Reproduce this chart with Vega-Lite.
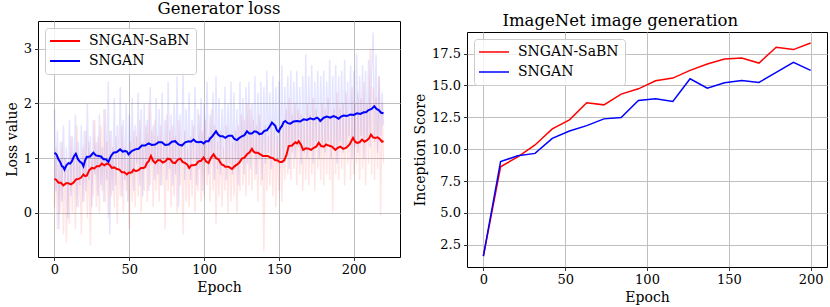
{
  "$schema": "https://vega.github.io/schema/vega-lite/v6.json",
  "padding": {"left": 4, "top": 0, "right": 0, "bottom": 0},
  "background": "white",
  "datasets": {
    "noise": [
      {"e":0,"r":0.1,"b":1.9},{"e":1,"r":1.2,"b":0.4},{"e":2,"r":-0.3,"b":1.5},{"e":3,"r":0.9,"b":-0.3},{"e":4,"r":0.0,"b":1.3},{"e":5,"r":1.3,"b":0.2},{"e":6,"r":-0.4,"b":1.6},{"e":7,"r":1.0,"b":0.5},{"e":8,"r":-0.55,"b":1.2},{"e":9,"r":0.8,"b":-0.1},
      {"e":10,"r":-0.2,"b":1.7},{"e":11,"r":1.4,"b":0.3},{"e":12,"r":0.0,"b":1.4},{"e":13,"r":1.1,"b":0.6},{"e":14,"r":-0.3,"b":1.8},{"e":15,"r":1.6,"b":0.1},{"e":16,"r":0.1,"b":1.3},{"e":17,"r":0.9,"b":0.5},{"e":18,"r":-0.4,"b":1.6},{"e":19,"r":1.2,"b":0.2},
      {"e":20,"r":0.2,"b":1.5},{"e":21,"r":1.5,"b":0.4},{"e":22,"r":-0.1,"b":2.0},{"e":23,"r":1.3,"b":0.6},{"e":24,"r":-0.6,"b":1.4},{"e":25,"r":1.1,"b":0.1},{"e":26,"r":0.3,"b":1.7},{"e":27,"r":1.7,"b":0.7},{"e":28,"r":0.1,"b":1.3},{"e":29,"r":1.4,"b":0.3},
      {"e":30,"r":0.0,"b":1.8},{"e":31,"r":1.6,"b":0.5},{"e":32,"r":0.4,"b":1.2},{"e":33,"r":1.9,"b":0.2},{"e":34,"r":0.2,"b":1.9},{"e":35,"r":1.3,"b":0.6},{"e":36,"r":-0.1,"b":2.4},{"e":37,"r":1.5,"b":-0.4},{"e":38,"r":0.3,"b":1.5},{"e":39,"r":1.2,"b":0.4},
      {"e":40,"r":0.1,"b":2.1},{"e":41,"r":1.4,"b":0.5},{"e":42,"r":-0.2,"b":1.6},{"e":43,"r":1.1,"b":0.8},{"e":44,"r":0.3,"b":2.3},{"e":45,"r":1.6,"b":0.3},{"e":46,"r":0.0,"b":1.7},{"e":47,"r":1.2,"b":0.6},{"e":48,"r":0.4,"b":2.0},{"e":49,"r":1.0,"b":0.2},
      {"e":50,"r":-0.3,"b":1.8},{"e":51,"r":1.3,"b":0.7},{"e":52,"r":0.2,"b":2.1},{"e":53,"r":1.5,"b":0.4},{"e":54,"r":0.1,"b":1.6},{"e":55,"r":1.4,"b":0.9},{"e":56,"r":0.3,"b":2.2},{"e":57,"r":1.7,"b":0.5},{"e":58,"r":0.0,"b":1.9},{"e":59,"r":1.3,"b":0.3},
      {"e":60,"r":0.4,"b":2.0},{"e":61,"r":1.6,"b":0.8},{"e":62,"r":0.2,"b":1.7},{"e":63,"r":2.0,"b":0.4},{"e":64,"r":0.5,"b":2.3},{"e":65,"r":1.5,"b":0.9},{"e":66,"r":0.1,"b":1.6},{"e":67,"r":1.7,"b":0.6},{"e":68,"r":0.4,"b":2.1},{"e":69,"r":1.4,"b":0.7},
      {"e":70,"r":0.2,"b":1.9},{"e":71,"r":1.6,"b":0.5},{"e":72,"r":0.5,"b":2.2},{"e":73,"r":1.3,"b":0.9},{"e":74,"r":-0.3,"b":1.7},{"e":75,"r":1.8,"b":0.6},{"e":76,"r":0.4,"b":2.4},{"e":77,"r":1.5,"b":0.8},{"e":78,"r":0.1,"b":1.8},{"e":79,"r":1.6,"b":0.5},
      {"e":80,"r":0.3,"b":2.0},{"e":81,"r":1.4,"b":0.7},{"e":82,"r":0.0,"b":2.5},{"e":83,"r":1.7,"b":0.1},{"e":84,"r":0.5,"b":1.8},{"e":85,"r":1.3,"b":0.9},{"e":86,"r":-0.4,"b":2.6},{"e":87,"r":1.5,"b":0.6},{"e":88,"r":0.2,"b":1.9},{"e":89,"r":1.2,"b":0.8},
      {"e":90,"r":0.1,"b":2.2},{"e":91,"r":1.4,"b":0.6},{"e":92,"r":0.3,"b":1.7},{"e":93,"r":1.6,"b":1.0},{"e":94,"r":0.0,"b":2.3},{"e":95,"r":1.3,"b":0.5},{"e":96,"r":0.4,"b":1.9},{"e":97,"r":1.8,"b":0.8},{"e":98,"r":0.2,"b":2.1},{"e":99,"r":1.5,"b":0.4},
      {"e":100,"r":0.3,"b":2.0},{"e":101,"r":1.7,"b":0.9},{"e":102,"r":0.5,"b":2.4},{"e":103,"r":1.4,"b":0.7},{"e":104,"r":0.2,"b":1.8},{"e":105,"r":1.9,"b":1.0},{"e":106,"r":0.4,"b":2.2},{"e":107,"r":1.6,"b":0.6},{"e":108,"r":-0.2,"b":2.5},{"e":109,"r":1.3,"b":0.8},
      {"e":110,"r":0.3,"b":2.1},{"e":111,"r":1.5,"b":0.7},{"e":112,"r":0.1,"b":1.9},{"e":113,"r":1.2,"b":1.0},{"e":114,"r":0.4,"b":2.3},{"e":115,"r":1.6,"b":0.6},{"e":116,"r":0.0,"b":2.0},{"e":117,"r":1.4,"b":0.9},{"e":118,"r":0.2,"b":2.4},{"e":119,"r":1.3,"b":0.7},
      {"e":120,"r":0.3,"b":2.2},{"e":121,"r":1.5,"b":0.8},{"e":122,"r":0.0,"b":1.9},{"e":123,"r":1.6,"b":0.5},{"e":124,"r":0.4,"b":2.4},{"e":125,"r":1.8,"b":1.0},{"e":126,"r":0.5,"b":2.1},{"e":127,"r":1.7,"b":0.7},{"e":128,"r":0.3,"b":2.3},{"e":129,"r":2.0,"b":0.9},
      {"e":130,"r":0.5,"b":2.4},{"e":131,"r":1.9,"b":0.8},{"e":132,"r":0.4,"b":2.0},{"e":133,"r":1.7,"b":1.1},{"e":134,"r":0.6,"b":2.5},{"e":135,"r":1.6,"b":0.7},{"e":136,"r":0.2,"b":2.2},{"e":137,"r":1.8,"b":1.0},{"e":138,"r":0.5,"b":2.4},{"e":139,"r":1.5,"b":0.6},
      {"e":140,"r":-0.7,"b":2.3},{"e":141,"r":1.6,"b":0.9},{"e":142,"r":0.4,"b":2.6},{"e":143,"r":1.4,"b":1.1},{"e":144,"r":0.5,"b":2.2},{"e":145,"r":1.7,"b":0.8},{"e":146,"r":0.3,"b":2.5},{"e":147,"r":1.5,"b":1.0},{"e":148,"r":0.1,"b":2.3},{"e":149,"r":1.4,"b":0.9},
      {"e":150,"r":0.4,"b":2.4},{"e":151,"r":1.5,"b":1.0},{"e":152,"r":0.2,"b":2.7},{"e":153,"r":1.6,"b":0.9},{"e":154,"r":0.6,"b":2.3},{"e":155,"r":1.9,"b":1.2},{"e":156,"r":0.7,"b":2.5},{"e":157,"r":2.1,"b":0.8},{"e":158,"r":0.6,"b":2.6},{"e":159,"r":1.8,"b":1.1},
      {"e":160,"r":0.8,"b":2.4},{"e":161,"r":2.0,"b":1.0},{"e":162,"r":0.5,"b":2.6},{"e":163,"r":1.9,"b":1.2},{"e":164,"r":0.7,"b":2.3},{"e":165,"r":1.8,"b":0.9},{"e":166,"r":0.4,"b":2.5},{"e":167,"r":1.7,"b":1.1},{"e":168,"r":0.6,"b":2.9},{"e":169,"r":2.0,"b":1.0},
      {"e":170,"r":0.5,"b":2.5},{"e":171,"r":1.8,"b":1.2},{"e":172,"r":0.7,"b":2.7},{"e":173,"r":2.1,"b":0.9},{"e":174,"r":0.4,"b":2.4},{"e":175,"r":1.9,"b":1.3},{"e":176,"r":0.8,"b":2.6},{"e":177,"r":1.7,"b":1.0},{"e":178,"r":0.6,"b":2.5},{"e":179,"r":2.0,"b":1.2},
      {"e":180,"r":0.5,"b":2.6},{"e":181,"r":1.9,"b":1.1},{"e":182,"r":0.7,"b":2.4},{"e":183,"r":2.1,"b":1.3},{"e":184,"r":0.6,"b":2.8},{"e":185,"r":1.8,"b":1.0},{"e":186,"r":0.0,"b":2.5},{"e":187,"r":1.9,"b":1.2},{"e":188,"r":0.7,"b":2.7},{"e":189,"r":2.2,"b":0.9},
      {"e":190,"r":0.6,"b":2.5},{"e":191,"r":1.9,"b":1.3},{"e":192,"r":0.8,"b":2.6},{"e":193,"r":2.0,"b":1.1},{"e":194,"r":0.5,"b":2.8},{"e":195,"r":2.2,"b":1.2},{"e":196,"r":0.9,"b":2.4},{"e":197,"r":1.8,"b":1.4},{"e":198,"r":0.6,"b":2.7},{"e":199,"r":2.3,"b":1.0},
      {"e":200,"r":0.7,"b":2.6},{"e":201,"r":2.0,"b":1.2},{"e":202,"r":0.9,"b":2.9},{"e":203,"r":2.2,"b":1.1},{"e":204,"r":0.6,"b":2.5},{"e":205,"r":2.1,"b":1.4},{"e":206,"r":0.8,"b":2.7},{"e":207,"r":2.4,"b":1.0},{"e":208,"r":0.5,"b":2.6},{"e":209,"r":2.0,"b":1.3},
      {"e":210,"r":0.9,"b":2.8},{"e":211,"r":3.0,"b":1.2},{"e":212,"r":0.7,"b":2.6},{"e":213,"r":2.3,"b":3.3},{"e":214,"r":0.6,"b":1.3},{"e":215,"r":2.1,"b":2.9},{"e":216,"r":0.8,"b":1.1},{"e":217,"r":2.5,"b":2.5},{"e":218,"r":-0.05,"b":1.4},{"e":219,"r":2.0,"b":2.2},{"e":220,"r":0.9,"b":1.6}
    ],
    "smooth": [
      {"s":"SNGAN-SaBN","e":0,"v":0.62},{"s":"SNGAN-SaBN","e":1.3,"v":0.6},{"s":"SNGAN-SaBN","e":2.7,"v":0.55},{"s":"SNGAN-SaBN","e":4.3,"v":0.55},{"s":"SNGAN-SaBN","e":6,"v":0.5},{"s":"SNGAN-SaBN","e":7.7,"v":0.54},{"s":"SNGAN-SaBN","e":9.4,"v":0.54},{"s":"SNGAN-SaBN","e":11,"v":0.52},{"s":"SNGAN-SaBN","e":12.7,"v":0.55},{"s":"SNGAN-SaBN","e":14.4,"v":0.61},{"s":"SNGAN-SaBN","e":16.1,"v":0.62},{"s":"SNGAN-SaBN","e":17.7,"v":0.64},{"s":"SNGAN-SaBN","e":19.4,"v":0.7},{"s":"SNGAN-SaBN","e":20.5,"v":0.67},{"s":"SNGAN-SaBN","e":21.6,"v":0.68},{"s":"SNGAN-SaBN","e":23.3,"v":0.78},{"s":"SNGAN-SaBN","e":25,"v":0.82},{"s":"SNGAN-SaBN","e":26.6,"v":0.81},{"s":"SNGAN-SaBN","e":28.3,"v":0.85},{"s":"SNGAN-SaBN","e":30,"v":0.85},{"s":"SNGAN-SaBN","e":31.7,"v":0.9},{"s":"SNGAN-SaBN","e":33.3,"v":0.87},{"s":"SNGAN-SaBN","e":35,"v":0.9},{"s":"SNGAN-SaBN","e":36.7,"v":0.88},{"s":"SNGAN-SaBN","e":38.4,"v":0.82},{"s":"SNGAN-SaBN","e":40,"v":0.83},{"s":"SNGAN-SaBN","e":41.7,"v":0.8},{"s":"SNGAN-SaBN","e":43.4,"v":0.79},{"s":"SNGAN-SaBN","e":45.1,"v":0.74},{"s":"SNGAN-SaBN","e":46.7,"v":0.74},{"s":"SNGAN-SaBN","e":48.4,"v":0.7},{"s":"SNGAN-SaBN","e":49.5,"v":0.73},{"s":"SNGAN-SaBN","e":50.6,"v":0.73},{"s":"SNGAN-SaBN","e":51.7,"v":0.74},{"s":"SNGAN-SaBN","e":52.9,"v":0.79},{"s":"SNGAN-SaBN","e":54.5,"v":0.76},{"s":"SNGAN-SaBN","e":56.2,"v":0.78},{"s":"SNGAN-SaBN","e":57.9,"v":0.82},{"s":"SNGAN-SaBN","e":59.6,"v":0.82},{"s":"SNGAN-SaBN","e":60.7,"v":0.84},{"s":"SNGAN-SaBN","e":61.8,"v":0.91},{"s":"SNGAN-SaBN","e":63.1,"v":0.95},{"s":"SNGAN-SaBN","e":64.5,"v":1.04},{"s":"SNGAN-SaBN","e":66,"v":0.95},{"s":"SNGAN-SaBN","e":67.4,"v":0.91},{"s":"SNGAN-SaBN","e":69,"v":0.96},{"s":"SNGAN-SaBN","e":70.7,"v":0.96},{"s":"SNGAN-SaBN","e":72.4,"v":0.92},{"s":"SNGAN-SaBN","e":74.1,"v":0.94},{"s":"SNGAN-SaBN","e":75.7,"v":0.99},{"s":"SNGAN-SaBN","e":77.4,"v":0.98},{"s":"SNGAN-SaBN","e":79,"v":0.92},{"s":"SNGAN-SaBN","e":80.7,"v":0.91},{"s":"SNGAN-SaBN","e":82.4,"v":0.97},{"s":"SNGAN-SaBN","e":84.1,"v":0.99},{"s":"SNGAN-SaBN","e":85.7,"v":0.93},{"s":"SNGAN-SaBN","e":87.4,"v":0.91},{"s":"SNGAN-SaBN","e":88.8,"v":0.88},{"s":"SNGAN-SaBN","e":90.1,"v":0.82},{"s":"SNGAN-SaBN","e":91.5,"v":0.87},{"s":"SNGAN-SaBN","e":93,"v":0.87},{"s":"SNGAN-SaBN","e":94.6,"v":0.88},{"s":"SNGAN-SaBN","e":96.3,"v":0.94},{"s":"SNGAN-SaBN","e":98,"v":0.95},{"s":"SNGAN-SaBN","e":99.7,"v":1.01},{"s":"SNGAN-SaBN","e":101.3,"v":0.94},{"s":"SNGAN-SaBN","e":103,"v":0.91},{"s":"SNGAN-SaBN","e":104.7,"v":1.01},{"s":"SNGAN-SaBN","e":106.4,"v":1.07},{"s":"SNGAN-SaBN","e":108,"v":1.0},{"s":"SNGAN-SaBN","e":109.7,"v":0.98},{"s":"SNGAN-SaBN","e":110.8,"v":0.92},{"s":"SNGAN-SaBN","e":112,"v":0.88},{"s":"SNGAN-SaBN","e":113.1,"v":0.87},{"s":"SNGAN-SaBN","e":114.2,"v":0.84},{"s":"SNGAN-SaBN","e":116.5,"v":0.84},{"s":"SNGAN-SaBN","e":118.7,"v":0.8},{"s":"SNGAN-SaBN","e":120.3,"v":0.85},{"s":"SNGAN-SaBN","e":122,"v":0.88},{"s":"SNGAN-SaBN","e":123.6,"v":0.92},{"s":"SNGAN-SaBN","e":125.3,"v":0.99},{"s":"SNGAN-SaBN","e":127,"v":1.01},{"s":"SNGAN-SaBN","e":128.7,"v":1.07},{"s":"SNGAN-SaBN","e":130.3,"v":1.1},{"s":"SNGAN-SaBN","e":132,"v":1.17},{"s":"SNGAN-SaBN","e":133.1,"v":1.12},{"s":"SNGAN-SaBN","e":134.2,"v":1.1},{"s":"SNGAN-SaBN","e":135.9,"v":1.1},{"s":"SNGAN-SaBN","e":137.6,"v":1.07},{"s":"SNGAN-SaBN","e":139.2,"v":1.04},{"s":"SNGAN-SaBN","e":140.9,"v":1.04},{"s":"SNGAN-SaBN","e":142.6,"v":1.04},{"s":"SNGAN-SaBN","e":144.3,"v":1.01},{"s":"SNGAN-SaBN","e":146,"v":1.0},{"s":"SNGAN-SaBN","e":147.6,"v":0.96},{"s":"SNGAN-SaBN","e":149,"v":0.96},{"s":"SNGAN-SaBN","e":150.5,"v":0.93},{"s":"SNGAN-SaBN","e":152,"v":0.93},{"s":"SNGAN-SaBN","e":153.6,"v":0.96},{"s":"SNGAN-SaBN","e":155,"v":1.05},{"s":"SNGAN-SaBN","e":156.6,"v":1.22},{"s":"SNGAN-SaBN","e":158.8,"v":1.23},{"s":"SNGAN-SaBN","e":161,"v":1.29},{"s":"SNGAN-SaBN","e":162.1,"v":1.27},{"s":"SNGAN-SaBN","e":163.3,"v":1.31},{"s":"SNGAN-SaBN","e":164.7,"v":1.25},{"s":"SNGAN-SaBN","e":166.2,"v":1.15},{"s":"SNGAN-SaBN","e":168.1,"v":1.18},{"s":"SNGAN-SaBN","e":170,"v":1.17},{"s":"SNGAN-SaBN","e":171.6,"v":1.15},{"s":"SNGAN-SaBN","e":173.3,"v":1.19},{"s":"SNGAN-SaBN","e":175,"v":1.21},{"s":"SNGAN-SaBN","e":176.7,"v":1.28},{"s":"SNGAN-SaBN","e":178.3,"v":1.22},{"s":"SNGAN-SaBN","e":180,"v":1.21},{"s":"SNGAN-SaBN","e":181.6,"v":1.25},{"s":"SNGAN-SaBN","e":183.3,"v":1.23},{"s":"SNGAN-SaBN","e":185.5,"v":1.21},{"s":"SNGAN-SaBN","e":187.8,"v":1.15},{"s":"SNGAN-SaBN","e":189.4,"v":1.19},{"s":"SNGAN-SaBN","e":191.1,"v":1.21},{"s":"SNGAN-SaBN","e":193.1,"v":1.17},{"s":"SNGAN-SaBN","e":195.1,"v":1.19},{"s":"SNGAN-SaBN","e":197.3,"v":1.25},{"s":"SNGAN-SaBN","e":199.6,"v":1.37},{"s":"SNGAN-SaBN","e":201,"v":1.3},{"s":"SNGAN-SaBN","e":202.3,"v":1.28},{"s":"SNGAN-SaBN","e":204,"v":1.29},{"s":"SNGAN-SaBN","e":205.6,"v":1.34},{"s":"SNGAN-SaBN","e":207.3,"v":1.3},{"s":"SNGAN-SaBN","e":209,"v":1.33},{"s":"SNGAN-SaBN","e":210.3,"v":1.36},{"s":"SNGAN-SaBN","e":211.6,"v":1.43},{"s":"SNGAN-SaBN","e":213,"v":1.38},{"s":"SNGAN-SaBN","e":214.5,"v":1.37},{"s":"SNGAN-SaBN","e":216,"v":1.38},{"s":"SNGAN-SaBN","e":217.5,"v":1.35},{"s":"SNGAN-SaBN","e":219,"v":1.3},{"s":"SNGAN-SaBN","e":220,"v":1.31},
      {"s":"SNGAN","e":0,"v":1.1},{"s":"SNGAN","e":1.3,"v":1.07},{"s":"SNGAN","e":2.7,"v":0.98},{"s":"SNGAN","e":3.8,"v":0.93},{"s":"SNGAN","e":5,"v":0.85},{"s":"SNGAN","e":5.8,"v":0.84},{"s":"SNGAN","e":6.7,"v":0.79},{"s":"SNGAN","e":8,"v":0.87},{"s":"SNGAN","e":9.4,"v":0.91},{"s":"SNGAN","e":10.5,"v":0.9},{"s":"SNGAN","e":11.6,"v":0.94},{"s":"SNGAN","e":13,"v":1.03},{"s":"SNGAN","e":14.3,"v":1.08},{"s":"SNGAN","e":15.7,"v":0.98},{"s":"SNGAN","e":17.2,"v":0.93},{"s":"SNGAN","e":18.3,"v":0.91},{"s":"SNGAN","e":19.4,"v":0.85},{"s":"SNGAN","e":20.5,"v":0.96},{"s":"SNGAN","e":21.6,"v":1.02},{"s":"SNGAN","e":23.8,"v":1.03},{"s":"SNGAN","e":26,"v":1.1},{"s":"SNGAN","e":27.7,"v":1.05},{"s":"SNGAN","e":29.5,"v":1.04},{"s":"SNGAN","e":31.1,"v":1.03},{"s":"SNGAN","e":32.8,"v":0.98},{"s":"SNGAN","e":34.4,"v":0.98},{"s":"SNGAN","e":36.1,"v":0.93},{"s":"SNGAN","e":37.8,"v":1.04},{"s":"SNGAN","e":39.5,"v":1.1},{"s":"SNGAN","e":41.7,"v":1.11},{"s":"SNGAN","e":43.9,"v":1.16},{"s":"SNGAN","e":45.6,"v":1.12},{"s":"SNGAN","e":47.3,"v":1.13},{"s":"SNGAN","e":48.4,"v":1.12},{"s":"SNGAN","e":49.5,"v":1.07},{"s":"SNGAN","e":51.7,"v":1.13},{"s":"SNGAN","e":54,"v":1.16},{"s":"SNGAN","e":56.2,"v":1.17},{"s":"SNGAN","e":58.4,"v":1.23},{"s":"SNGAN","e":60.6,"v":1.23},{"s":"SNGAN","e":62.9,"v":1.27},{"s":"SNGAN","e":65.1,"v":1.24},{"s":"SNGAN","e":67.4,"v":1.25},{"s":"SNGAN","e":69.6,"v":1.29},{"s":"SNGAN","e":71.8,"v":1.29},{"s":"SNGAN","e":74,"v":1.24},{"s":"SNGAN","e":76.3,"v":1.25},{"s":"SNGAN","e":78.5,"v":1.3},{"s":"SNGAN","e":80.7,"v":1.31},{"s":"SNGAN","e":82.9,"v":1.25},{"s":"SNGAN","e":85.2,"v":1.23},{"s":"SNGAN","e":87.4,"v":1.29},{"s":"SNGAN","e":89.7,"v":1.31},{"s":"SNGAN","e":91.3,"v":1.3},{"s":"SNGAN","e":93,"v":1.34},{"s":"SNGAN","e":94.6,"v":1.3},{"s":"SNGAN","e":96.3,"v":1.29},{"s":"SNGAN","e":98,"v":1.3},{"s":"SNGAN","e":99.7,"v":1.27},{"s":"SNGAN","e":101.3,"v":1.31},{"s":"SNGAN","e":103,"v":1.31},{"s":"SNGAN","e":104.1,"v":1.36},{"s":"SNGAN","e":105.3,"v":1.39},{"s":"SNGAN","e":106.6,"v":1.44},{"s":"SNGAN","e":108,"v":1.49},{"s":"SNGAN","e":109.4,"v":1.43},{"s":"SNGAN","e":110.8,"v":1.4},{"s":"SNGAN","e":112.5,"v":1.4},{"s":"SNGAN","e":114.2,"v":1.37},{"s":"SNGAN","e":116.4,"v":1.41},{"s":"SNGAN","e":118.7,"v":1.41},{"s":"SNGAN","e":120.3,"v":1.35},{"s":"SNGAN","e":122,"v":1.33},{"s":"SNGAN","e":123.6,"v":1.37},{"s":"SNGAN","e":125.3,"v":1.4},{"s":"SNGAN","e":127,"v":1.42},{"s":"SNGAN","e":128.7,"v":1.49},{"s":"SNGAN","e":130.3,"v":1.45},{"s":"SNGAN","e":132,"v":1.45},{"s":"SNGAN","e":133.7,"v":1.49},{"s":"SNGAN","e":135.4,"v":1.48},{"s":"SNGAN","e":137,"v":1.44},{"s":"SNGAN","e":138.7,"v":1.45},{"s":"SNGAN","e":140.3,"v":1.5},{"s":"SNGAN","e":142,"v":1.51},{"s":"SNGAN","e":143.7,"v":1.57},{"s":"SNGAN","e":145.4,"v":1.65},{"s":"SNGAN","e":146.5,"v":1.62},{"s":"SNGAN","e":147.6,"v":1.59},{"s":"SNGAN","e":148.7,"v":1.51},{"s":"SNGAN","e":149.9,"v":1.48},{"s":"SNGAN","e":151,"v":1.55},{"s":"SNGAN","e":152.1,"v":1.59},{"s":"SNGAN","e":153.2,"v":1.66},{"s":"SNGAN","e":154.3,"v":1.68},{"s":"SNGAN","e":156,"v":1.64},{"s":"SNGAN","e":157.7,"v":1.63},{"s":"SNGAN","e":159.9,"v":1.67},{"s":"SNGAN","e":162.1,"v":1.68},{"s":"SNGAN","e":164.3,"v":1.67},{"s":"SNGAN","e":166.6,"v":1.71},{"s":"SNGAN","e":168.8,"v":1.7},{"s":"SNGAN","e":171,"v":1.73},{"s":"SNGAN","e":173.2,"v":1.71},{"s":"SNGAN","e":175.5,"v":1.74},{"s":"SNGAN","e":176.6,"v":1.72},{"s":"SNGAN","e":177.7,"v":1.68},{"s":"SNGAN","e":180,"v":1.74},{"s":"SNGAN","e":182.2,"v":1.76},{"s":"SNGAN","e":184.4,"v":1.74},{"s":"SNGAN","e":186.6,"v":1.77},{"s":"SNGAN","e":188.3,"v":1.75},{"s":"SNGAN","e":190,"v":1.72},{"s":"SNGAN","e":191.6,"v":1.76},{"s":"SNGAN","e":193.3,"v":1.78},{"s":"SNGAN","e":195.5,"v":1.77},{"s":"SNGAN","e":197.8,"v":1.8},{"s":"SNGAN","e":200,"v":1.79},{"s":"SNGAN","e":202.3,"v":1.82},{"s":"SNGAN","e":204.5,"v":1.81},{"s":"SNGAN","e":206.7,"v":1.84},{"s":"SNGAN","e":208.3,"v":1.84},{"s":"SNGAN","e":210,"v":1.88},{"s":"SNGAN","e":212,"v":1.9},{"s":"SNGAN","e":213.8,"v":1.95},{"s":"SNGAN","e":215.3,"v":1.9},{"s":"SNGAN","e":216.8,"v":1.88},{"s":"SNGAN","e":218.4,"v":1.83},{"s":"SNGAN","e":220,"v":1.82}
    ],
    "inception": [
      {"s":"SNGAN-SaBN","e":0,"v":1.6},{"s":"SNGAN-SaBN","e":10.53,"v":8.62},{"s":"SNGAN-SaBN","e":21.05,"v":9.4},{"s":"SNGAN-SaBN","e":31.58,"v":10.33},{"s":"SNGAN-SaBN","e":42.11,"v":11.59},{"s":"SNGAN-SaBN","e":52.63,"v":12.3},{"s":"SNGAN-SaBN","e":63.16,"v":13.65},{"s":"SNGAN-SaBN","e":73.68,"v":13.48},{"s":"SNGAN-SaBN","e":84.21,"v":14.32},{"s":"SNGAN-SaBN","e":94.74,"v":14.74},{"s":"SNGAN-SaBN","e":105.26,"v":15.37},{"s":"SNGAN-SaBN","e":115.79,"v":15.58},{"s":"SNGAN-SaBN","e":126.32,"v":16.19},{"s":"SNGAN-SaBN","e":136.84,"v":16.69},{"s":"SNGAN-SaBN","e":147.37,"v":17.08},{"s":"SNGAN-SaBN","e":157.89,"v":17.16},{"s":"SNGAN-SaBN","e":168.42,"v":16.76},{"s":"SNGAN-SaBN","e":178.95,"v":18.0},{"s":"SNGAN-SaBN","e":189.47,"v":17.82},{"s":"SNGAN-SaBN","e":200,"v":18.34},
      {"s":"SNGAN","e":0,"v":1.6},{"s":"SNGAN","e":10.53,"v":9.02},{"s":"SNGAN","e":21.05,"v":9.49},{"s":"SNGAN","e":31.58,"v":9.67},{"s":"SNGAN","e":42.11,"v":10.85},{"s":"SNGAN","e":52.63,"v":11.43},{"s":"SNGAN","e":63.16,"v":11.85},{"s":"SNGAN","e":73.68,"v":12.38},{"s":"SNGAN","e":84.21,"v":12.48},{"s":"SNGAN","e":94.74,"v":13.82},{"s":"SNGAN","e":105.26,"v":13.95},{"s":"SNGAN","e":115.79,"v":13.74},{"s":"SNGAN","e":126.32,"v":15.53},{"s":"SNGAN","e":136.84,"v":14.79},{"s":"SNGAN","e":147.37,"v":15.21},{"s":"SNGAN","e":157.89,"v":15.4},{"s":"SNGAN","e":168.42,"v":15.24},{"s":"SNGAN","e":178.95,"v":16.03},{"s":"SNGAN","e":189.47,"v":16.82},{"s":"SNGAN","e":200,"v":16.19}
    ]
  },
  "spacing": 12,
  "resolve": {"scale": {"color": "independent", "x": "independent", "y": "independent"}, "legend": {"color": "independent"}},
  "hconcat": [
    {
      "width": 362,
      "height": 236,
      "title": {"text": "Generator loss", "offset": 4},
      "layer": [
        {
          "data": {"name": "noise"},
          "mark": {"type": "line", "color": "#ff0000", "opacity": 0.1, "strokeWidth": 1.5},
          "encoding": {
            "x": {"field": "e", "type": "quantitative", "title": "Epoch", "scale": {"domain": [-11, 231], "nice": false, "zero": false}, "axis": {"values": [0, 50, 100, 150, 200]}},
            "y": {"field": "r", "type": "quantitative", "title": "Loss value", "scale": {"domain": [-0.81, 3.51], "nice": false, "zero": false}, "axis": {"values": [0, 1, 2, 3]}}
          }
        },
        {
          "data": {"name": "noise"},
          "mark": {"type": "line", "color": "#0000ff", "opacity": 0.1, "strokeWidth": 1.5},
          "encoding": {
            "x": {"field": "e", "type": "quantitative", "title": "Epoch", "scale": {"domain": [-11, 231], "nice": false, "zero": false}},
            "y": {"field": "b", "type": "quantitative", "title": "Loss value", "scale": {"domain": [-0.81, 3.51], "nice": false, "zero": false}}
          }
        },
        {
          "data": {"name": "smooth"},
          "mark": {"type": "line", "strokeWidth": 2},
          "encoding": {
            "x": {"field": "e", "type": "quantitative", "title": "Epoch", "scale": {"domain": [-11, 231], "nice": false, "zero": false}},
            "y": {"field": "v", "type": "quantitative", "title": "Loss value", "scale": {"domain": [-0.81, 3.51], "nice": false, "zero": false}},
            "color": {"field": "s", "type": "nominal", "sort": ["SNGAN-SaBN", "SNGAN"], "scale": {"domain": ["SNGAN-SaBN", "SNGAN"], "range": ["#ff0000", "#0000ff"]}, "legend": {"title": null, "orient": "top-left", "offset": 7, "symbolStrokeWidth": 2}}
          }
        }
      ]
    },
    {
      "title": {"text": "ImageNet image generation", "offset": -8},
      "spacing": 0,
      "resolve": {"scale": {"color": "independent", "x": "independent", "y": "independent"}, "legend": {"color": "independent"}},
      "vconcat": [
        {
          "width": 360,
          "height": 10,
          "view": {"stroke": null},
          "data": {"values": [{}]},
          "mark": {"type": "point", "opacity": 0}
        },
        {
          "width": 360,
          "height": 235,
          "data": {"name": "inception"},
          "mark": {"type": "line", "strokeWidth": 1.5},
          "encoding": {
            "x": {"field": "e", "type": "quantitative", "title": "Epoch", "scale": {"domain": [-10, 210], "nice": false, "zero": false}, "axis": {"values": [0, 50, 100, 150, 200]}},
            "y": {"field": "v", "type": "quantitative", "title": "Inception Score", "scale": {"domain": [0.75, 19.2], "nice": false, "zero": false}, "axis": {"values": [2.5, 5, 7.5, 10, 12.5, 15, 17.5], "format": ".1f"}},
            "color": {"field": "s", "type": "nominal", "sort": ["SNGAN-SaBN", "SNGAN"], "scale": {"domain": ["SNGAN-SaBN", "SNGAN"], "range": ["#ff0000", "#0000ff"]}, "legend": {"title": null, "orient": "top-left", "offset": 7, "symbolStrokeWidth": 1.5}}
          }
        }
      ]
    }
  ],
  "config": {
    "font": "DejaVu Serif",
    "view": {"stroke": "black", "strokeWidth": 1},
    "title": {"font": "DejaVu Serif", "fontSize": 16.5, "fontWeight": "normal", "color": "black", "anchor": "middle"},
    "axis": {
      "labelFont": "DejaVu Serif", "titleFont": "DejaVu Serif", "labelFontSize": 13, "titleFontSize": 14, "titleFontWeight": "normal",
      "labelColor": "black", "titleColor": "black", "tickColor": "black", "tickSize": 3.5, "tickWidth": 0.8, "labelPadding": 3,
      "domain": false, "grid": true, "gridColor": "#c0c0c0", "gridWidth": 1, "titlePadding": 4
    },
    "legend": {
      "symbolType": "M-2.5,0H2.5", "symbolSize": 144, "symbolOffset": 7, "labelFont": "DejaVu Serif", "labelFontSize": 14, "labelColor": "black",
      "fillColor": "rgba(255,255,255,0.8)", "strokeColor": "#cccccc", "cornerRadius": 3, "padding": 6, "rowPadding": 6, "labelOffset": 17, "symbolOpacity": 1
    }
  }
}
